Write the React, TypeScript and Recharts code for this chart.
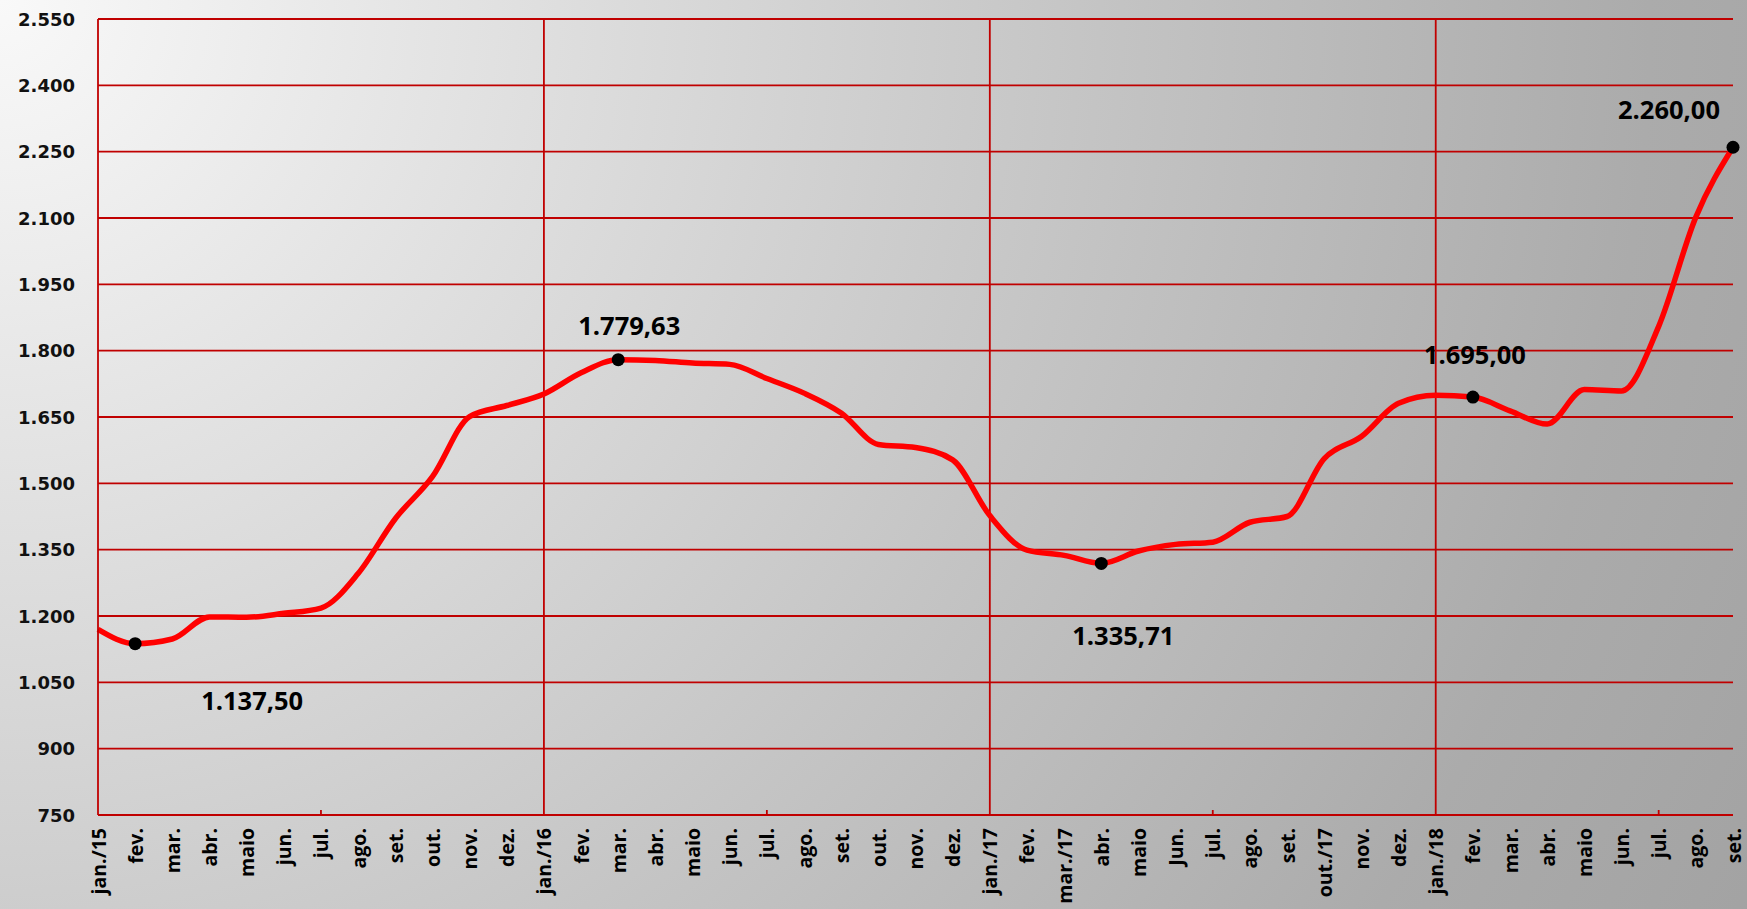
import React from "react";
import {
  LineChart,
  Line,
  XAxis,
  YAxis,
  CartesianGrid,
  ReferenceLine,
} from "recharts";

const months = [
  "jan./15", "fev.", "mar.", "abr.", "maio", "jun.", "jul.", "ago.", "set.", "out.", "nov.", "dez.",
  "jan./16", "fev.", "mar.", "abr.", "maio", "jun.", "jul.", "ago.", "set.", "out.", "nov.", "dez.",
  "jan./17", "fev.", "mar./17", "abr.", "maio", "Jun.", "jul.", "ago.", "set.", "out./17", "nov.", "dez.",
  "jan./18", "fev.", "mar.", "abr.", "maio", "jun.", "jul.", "ago.", "set.",
];

const prices = [
  1170, 1137.5, 1148, 1198, 1197, 1206, 1218, 1296, 1420, 1515, 1651, 1676,
  1702, 1750, 1779.63, 1778, 1772, 1769, 1737, 1704, 1659, 1588, 1581, 1553,
  1427, 1349, 1337, 1319, 1347, 1362, 1367, 1412, 1425, 1556, 1606, 1681,
  1699, 1695, 1664, 1634, 1712, 1709, 1855, 2102, 2260,
];

const yTicks = [750, 900, 1050, 1200, 1350, 1500, 1650, 1800, 1950, 2100, 2250, 2400, 2550];
const yTickLabels = ["750", "900", "1.050", "1.200", "1.350", "1.500", "1.650", "1.800", "1.950", "2.100", "2.250", "2.400", "2.550"];

const yearStartIdx = [12, 24, 36];
const midYearIdx = [6, 18, 30, 42];

const annotatedIdx = [1, 14, 27, 37, 44];
const annotationTexts = ["1.137,50", "1.779,63", "1.335,71", "1.695,00", "2.260,00"];

const annotationOffsets: Record<number, { dx: number; dy: number }> = {
  1: { dx: 117, dy: 56 },
  14: { dx: 11, dy: -35 },
  27: { dx: 22, dy: 72 },
  37: { dx: 2, dy: -43 },
  44: { dx: -64, dy: -38 },
};

const data = months.map((m, i) => ({ idx: i, month: m, price: prices[i] }));

const GRID = "#C00000";

const XTick = (props: any) => {
  const { x, y, payload } = props;
  const i = payload.value as number;
  const label = months[i] ?? "";
  const isMid = midYearIdx.includes(i);
  return (
    <g>
      {isMid && <line x1={x} y1={y} x2={x} y2={y - 5} stroke={GRID} strokeWidth={1.8} />}
      <text
        x={x}
        y={y + 13}
        transform={`rotate(-90, ${x}, ${y + 13})`}
        textAnchor="end"
        dominantBaseline="central"
        fontFamily="'Open Sans', sans-serif"
        fontWeight={700}
        fontSize={19.5}
        fill="#000"
      >
        {label}
      </text>
    </g>
  );
};

const YTick = (props: any) => {
  const { x, y, payload } = props;
  const k = yTicks.indexOf(payload.value);
  return (
    <text
      x={x}
      y={y}
      textAnchor="end"
      dominantBaseline="central"
      fontFamily="'DejaVu Sans', sans-serif"
      fontWeight={700}
      fontSize={18}
      fill="#111"
    >
      {k >= 0 ? yTickLabels[k] : payload.value}
    </text>
  );
};

const renderDot = (props: any) => {
  const { cx, cy, index } = props;
  const k = annotatedIdx.indexOf(index);
  if (k < 0) return <g key={`d${index}`} />;
  const off = annotationOffsets[index];
  return (
    <g key={`d${index}`}>
      <circle cx={cx} cy={cy} r={6.5} fill="#000" />
      <text
        x={cx + off.dx}
        y={cy + off.dy}
        textAnchor="middle"
        dominantBaseline="central"
        fontFamily="'Open Sans', sans-serif"
        fontWeight={700}
        fontSize={25.5}
        fill="#000"
      >
        {annotationTexts[k]}
      </text>
    </g>
  );
};

export default function App() {
  return (
    <div
      style={{
        position: "absolute",
        left: 0,
        top: 0,
        width: 1747,
        height: 909,
        background:
          "radial-gradient(circle at 0px 0px, #f9f9f9 0px, #dcdcdc 600px, #c4c4c4 1100px, #ababab 1650px, #a2a2a2 2000px)",
      }}
    >
      <LineChart
        width={1747}
        height={909}
        data={data}
        margin={{ top: 19, right: 14, bottom: 0, left: 0 }}
      >
        <CartesianGrid vertical={false} stroke={GRID} strokeWidth={1.8} />
        <XAxis
          dataKey="idx"
          type="number"
          domain={[0, 44]}
          ticks={months.map((_, i) => i)}
          interval={0}
          height={94}
          tickSize={0}
          tickMargin={0}
          tickLine={false}
          axisLine={{ stroke: GRID, strokeWidth: 1.8 }}
          tick={<XTick />}
        />
        <YAxis
          type="number"
          domain={[750, 2550]}
          ticks={yTicks}
          interval={0}
          width={98}
          tickSize={0}
          tickMargin={23}
          tickLine={false}
          axisLine={{ stroke: GRID, strokeWidth: 1.8 }}
          tick={<YTick />}
        />
        {yearStartIdx.map((i) => (
          <ReferenceLine key={i} x={i} stroke={GRID} strokeWidth={1.8} />
        ))}
        <Line
          type="monotone"
          dataKey="price"
          stroke="#FF0000"
          strokeWidth={5.5}
          dot={renderDot}
          activeDot={false}
          isAnimationActive={false}
        />
      </LineChart>
    </div>
  );
}
